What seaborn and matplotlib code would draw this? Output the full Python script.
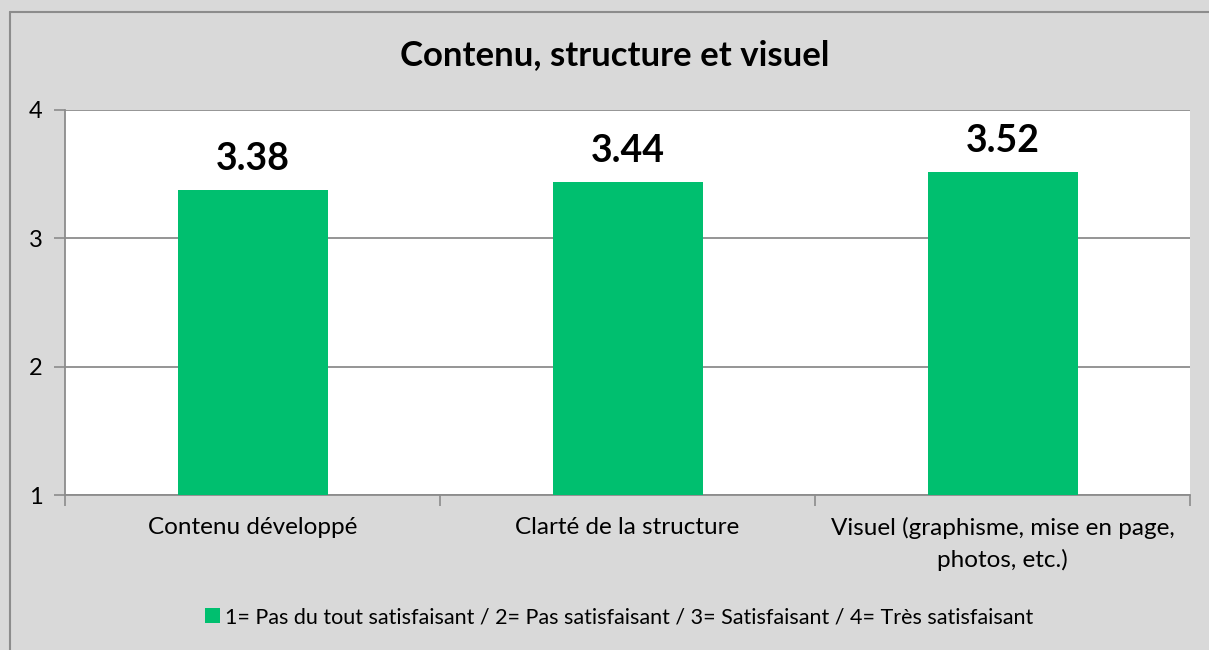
import matplotlib
matplotlib.use("Agg")
import matplotlib.pyplot as plt
import seaborn as sns
import pandas as pd
from matplotlib.patches import Patch
from matplotlib.lines import Line2D
from matplotlib.ticker import FixedLocator

categories = ["Contenu développé", "Clarté de la structure",
              "Visuel (graphisme, mise en page,\nphotos, etc.)"]
values = [3.38, 3.44, 3.52]
value_labels = ["3.38", "3.44", "3.52"]
series_name = "1= Pas du tout satisfaisant / 2= Pas satisfaisant / 3= Satisfaisant / 4= Très satisfaisant"
title = "Contenu, structure et visuel"
yticks = [1, 2, 3, 4]

sns.set_style("white")
plt.rcParams["font.family"] = ["Lato", "DejaVu Sans"]
plt.rcParams["text.color"] = "black"
plt.rcParams["xtick.labelcolor"] = "black"
plt.rcParams["ytick.labelcolor"] = "black"

bg = "#d9d9d9"
green = "#00bf6f"
grey = "#8c8c8c"

fig = plt.figure(figsize=(12.09, 6.5), dpi=100, facecolor=bg)
ax = fig.add_axes([65/1209, 1-495/650, (1190-65)/1209, (495-110)/650])
ax.set_facecolor("white")

df = pd.DataFrame({"cat": categories, "val": values})
sns.barplot(data=df, x="cat", y="val", color=green, width=0.4, saturation=1,
            ax=ax, zorder=3, linewidth=0, edgecolor="none")

ax.set_ylim(1, 4)
ax.set_xlim(-0.5, 2.5)
ax.set_yticks(yticks)
ax.set_yticklabels([str(t) for t in yticks], fontsize=17)
ax.set_xlabel("")
ax.set_ylabel("")
ax.tick_params(axis="x", labelsize=17.5, length=0, pad=16, labelcolor="black")
ax.tick_params(axis="y", length=8, width=1.2, color=grey, pad=8, left=True, direction="out", labelcolor="black")
for lab in ax.get_xticklabels():
    lab.set_linespacing(1.55)
ax.xaxis.set_minor_locator(FixedLocator([-0.5, 0.5, 1.5, 2.5]))
ax.tick_params(axis="x", which="minor", length=8, width=1.2, color=grey, bottom=True, direction="out")
ax.grid(axis="y", color=grey, linewidth=1.3, zorder=0)
ax.set_axisbelow(True)
for s in ["top", "right"]:
    ax.spines[s].set_visible(False)
for s in ["left", "bottom"]:
    ax.spines[s].set_color(grey)
    ax.spines[s].set_linewidth(1.3)

for i, (v, lab) in enumerate(zip(values, value_labels)):
    ax.annotate(lab, (i, v), xytext=(0, 10), textcoords="offset points",
                ha="center", va="bottom", fontsize=27, fontweight="bold", color="black")

fig.text(615/1209, 1-55/650, title, ha="center", va="center", fontsize=25,
         fontweight="bold", color="black")

handle = Patch(facecolor=green, edgecolor="none")
fig.legend([handle], [series_name], loc="center", bbox_to_anchor=(619/1209, 1-617/650),
           frameon=False, fontsize=15.5, handlelength=0.7, handleheight=0.7, handletextpad=0.25,
           labelcolor="black")

fig.add_artist(Line2D([10/1209, 10/1209], [0, 1-12/650], transform=fig.transFigure, color=grey, linewidth=1.5))
fig.add_artist(Line2D([10/1209, 1], [1-12/650, 1-12/650], transform=fig.transFigure, color=grey, linewidth=1.5))

fig.savefig("out.png", dpi=100, facecolor=bg)
